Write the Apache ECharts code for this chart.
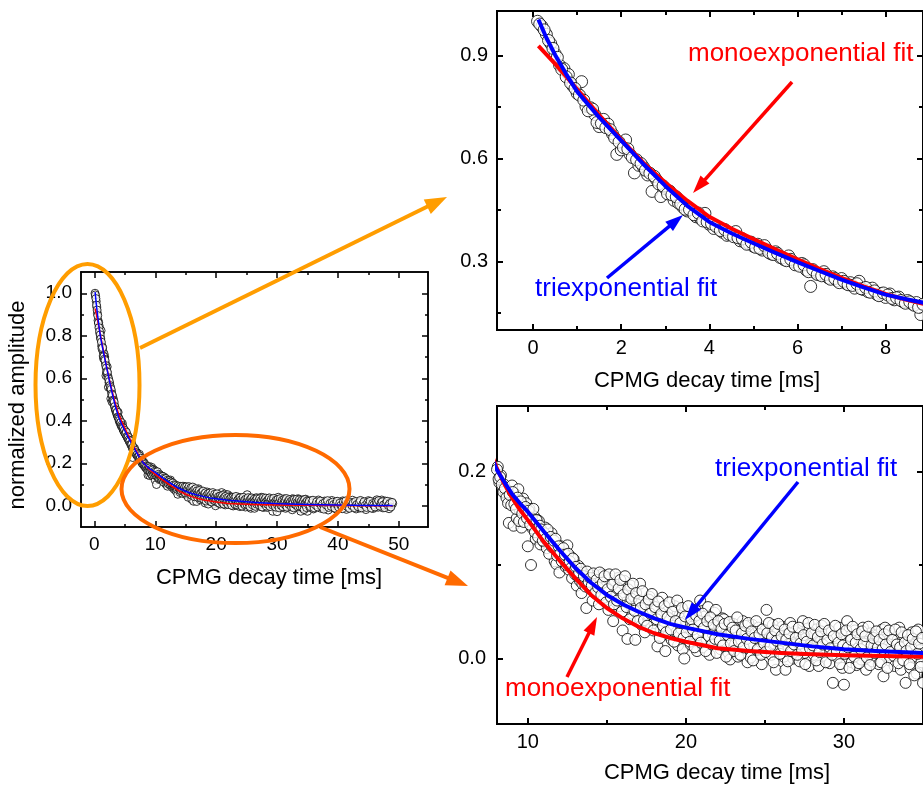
<!DOCTYPE html>
<html>
<head>
<meta charset="utf-8">
<script src="https://cdn.jsdelivr.net/npm/echarts@6/dist/echarts.min.js"></script>
<style>
  html, body { margin: 0; padding: 0; background: #fff; }
  #chart { width: 923px; height: 785px; }
</style>
</head>
<body>
<div id="chart"></div>
<script>
// CPMG echo amplitudes [decay time ms, normalized amplitude]
const echoEarly = [
  [0.1,1.000],[0.2,0.985],[0.3,0.962],[0.4,0.935],[0.5,0.905],[0.6,0.872],[0.7,0.862],[0.8,0.845],[0.9,0.812],[1.0,0.790],
  [1.1,0.824],[1.2,0.752],[1.3,0.748],[1.4,0.728],[1.5,0.693],[1.6,0.714],[1.7,0.700],[1.8,0.672],[1.9,0.612],[2.0,0.625],
  [2.1,0.654],[2.2,0.612],[2.3,0.558],[2.4,0.580],[2.5,0.576],[2.6,0.552],[2.7,0.504],[2.8,0.538],[2.9,0.489],[3.0,0.512],
  [3.1,0.505],[3.2,0.478],[3.3,0.470],[3.4,0.458],[3.5,0.447],[3.6,0.449],[3.7,0.430],[3.8,0.425],[3.9,0.440],[4.0,0.408],
  [4.1,0.396],[4.2,0.398],[4.3,0.385],[4.4,0.376],[4.5,0.380],[4.6,0.387],[4.7,0.360],[4.8,0.356],[4.9,0.352],[5.0,0.344],
  [5.1,0.350],[5.2,0.333],[5.3,0.336],[5.4,0.322],[5.5,0.328],[5.6,0.312],[5.7,0.305],[5.8,0.316],[5.9,0.298],[6.0,0.292],
  [6.1,0.294],[6.2,0.275],[6.3,0.227],[6.4,0.268],[6.5,0.262],[6.6,0.270],[6.7,0.252],[6.8,0.255],[6.9,0.244],[7.0,0.250],
  [7.1,0.236],[7.2,0.238],[7.3,0.222],[7.4,0.242],[7.5,0.218],[7.6,0.212],[7.7,0.222],[7.8,0.204],[7.9,0.206],[8.0,0.195],
  [8.1,0.205],[8.2,0.188],[8.3,0.196],[8.4,0.182],[8.5,0.186],[8.6,0.176],[8.7,0.180],[8.8,0.145],[8.9,0.172]
];
const echoEarlyB = [
  [0.15,0.992],[0.25,0.975],[0.35,0.944],[0.45,0.921],[0.55,0.895],[0.65,0.860],[0.75,0.838],[0.85,0.820],[0.95,0.804],
  [1.05,0.785],[1.15,0.770],[1.25,0.739],[1.35,0.744],[1.45,0.705],[1.55,0.702],[1.65,0.690],[1.75,0.684],[1.85,0.660],[1.95,0.648],
  [2.05,0.632],[2.15,0.628],[2.25,0.603],[2.35,0.596],[2.45,0.585],[2.55,0.566],[2.65,0.557],[2.75,0.548],[2.85,0.526],[2.95,0.520],
  [3.05,0.497],[3.15,0.494],[3.25,0.488],[3.35,0.467],[3.45,0.452],[3.55,0.451],[3.65,0.436],[3.75,0.441],[3.85,0.418],[3.95,0.415],
  [4.05,0.410],[4.15,0.402],[4.25,0.390],[4.35,0.393],[4.45,0.379],[4.55,0.372],[4.65,0.369],[4.75,0.366],[4.85,0.350],[4.95,0.356],
  [5.05,0.341],[5.15,0.338],[5.25,0.346],[5.35,0.326],[5.45,0.320],[5.55,0.323],[5.65,0.310],[5.75,0.302],[5.85,0.306],[5.95,0.290],
  [6.05,0.286],[6.15,0.290],[6.25,0.270],[6.35,0.276],[6.45,0.262],[6.55,0.258],[6.65,0.262],[6.75,0.248],[6.85,0.250],[6.95,0.238],
  [7.05,0.242],[7.15,0.232],[7.25,0.230],[7.35,0.235],[7.45,0.220],[7.55,0.224],[7.65,0.210],[7.75,0.214],[7.85,0.200],[7.95,0.208],
  [8.05,0.202],[8.15,0.192],[8.25,0.194],[8.35,0.186],[8.45,0.178],[8.55,0.182],[8.65,0.172],[8.75,0.166],[8.85,0.175],[8.95,0.164]
];
const echoMid = [
  [9.0,0.185],[9.1,0.142],[9.2,0.176],[9.3,0.150],[9.4,0.181],[9.5,0.158],[9.6,0.140],[9.7,0.171],[9.8,0.152],[9.9,0.166],
  [10.0,0.120],[10.1,0.160],[10.2,0.100],[10.3,0.139],[10.4,0.152],[10.5,0.128],[10.6,0.148],[10.7,0.147],[10.8,0.122],[10.9,0.133],
  [11.0,0.125],[11.1,0.140],[11.2,0.118],[11.3,0.131],[11.4,0.123],[11.5,0.134],[11.6,0.118],[11.7,0.104],[11.8,0.101],[11.9,0.114],
  [12.0,0.092],[12.1,0.120],[12.2,0.108],[12.3,0.113],[12.4,0.098],[12.5,0.121],[12.6,0.095],[12.7,0.109],[12.8,0.086],[12.9,0.106],
  [13.0,0.090],[13.1,0.078],[13.2,0.099],[13.3,0.083],[13.4,0.070],[13.5,0.092],[13.6,0.090],[13.7,0.054],[13.8,0.087],[13.9,0.075],
  [14.0,0.089],[14.1,0.062],[14.2,0.086],[14.3,0.072],[14.4,0.088],[14.5,0.058],[14.6,0.079],[14.7,0.090],[14.8,0.065],[14.9,0.076],
  [15.0,0.087],[15.1,0.052],[15.2,0.085],[15.3,0.064],[15.4,0.040],[15.5,0.083],[15.6,0.071],[15.7,0.086],[15.8,0.056],[15.9,0.066],
  [16.0,0.030],[16.1,0.083],[16.2,0.060],[16.3,0.021],[16.4,0.072],[16.5,0.078],[16.6,0.048],[16.7,0.066],[16.8,0.020],[16.9,0.058],
  [17.0,0.044],[17.1,0.080],[17.2,0.036],[17.3,0.055],[17.4,0.028],[17.5,0.060],[17.6,0.047],[17.7,0.066],[17.8,0.033],[17.9,0.052],
  [18.0,0.038],[18.1,0.052],[18.2,0.013],[18.3,0.045],[18.4,0.030],[18.5,0.065],[18.6,0.040],[18.7,0.008],[18.8,0.050],[18.9,0.025],
  [19.0,0.042],[19.1,0.020],[19.2,0.035],[19.3,0.056],[19.4,0.028],[19.5,0.014],[19.6,0.046],[19.7,0.032],[19.8,0.010],[19.9,0.000],
  [20.0,0.040],[20.1,0.022],[20.2,0.048],[20.3,0.015],[20.4,0.034],[20.5,0.027],[20.6,0.052],[20.7,0.008],[20.8,0.036],[20.9,0.062],
  [21.0,0.030],[21.1,0.012],[21.2,0.045],[21.3,0.021],[21.4,0.055],[21.5,0.004],[21.6,0.038],[21.7,0.026],[21.8,0.049],[21.9,0.052],
  [22.0,0.024],[22.1,0.035],[22.2,0.010],[22.3,0.043],[22.4,0.042],[22.5,0.018],[22.6,0.030],[22.7,0.006],[22.8,-0.001],[22.9,0.028],
  [23.0,0.037],[23.1,0.015],[23.2,0.026],[23.3,0.002],[23.4,0.034],[23.5,0.020],[23.6,0.040],[23.7,0.011],[23.8,0.029],[23.9,-0.004],
  [24.0,0.023],[24.1,0.001],[24.2,0.036],[24.3,0.014],[24.4,0.027],[24.5,0.009],[24.6,0.033],[24.7,0.018],[24.8,-0.006],[24.9,0.025],
  [25.0,0.030],[25.1,0.052],[25.2,0.012],[25.3,0.024],[25.4,0.004],[25.5,0.036],[25.6,0.016],[25.7,-0.012],[25.8,0.028],[25.9,0.008],
  [26.0,0.020],[26.1,0.034],[26.2,0.002],[26.3,-0.012],[26.4,0.026],[26.5,0.011],[26.6,0.038],[26.7,0.017],[26.8,0.000],[26.9,0.029],
  [27.0,0.013],[27.1,0.027],[27.2,-0.003],[27.3,0.020],[27.4,0.040],[27.5,0.006],[27.6,0.022],[27.7,0.032],[27.8,-0.008],[27.9,0.015],
  [28.0,0.024],[28.1,0.004],[28.2,0.031],[28.3,0.012],[28.4,-0.008],[28.5,0.018],[28.6,0.035],[28.7,0.003],[28.8,0.021],[28.9,0.010],
  [29.0,0.017],[29.1,-0.005],[29.2,0.028],[29.3,-0.026],[29.4,0.012],[29.5,0.022],[29.6,0.001],[29.7,0.033],[29.8,0.009],[29.9,-0.010],
  [30.0,-0.028],[30.1,0.019],[30.2,0.040],[30.3,0.005],[30.4,0.024],[30.5,-0.004],[30.6,0.014],[30.7,0.030],[30.8,-0.007],[30.9,0.011],
  [31.0,0.021],[31.1,-0.001],[31.2,0.033],[31.3,0.008],[31.4,-0.012],[31.5,0.018],[31.6,0.004],[31.7,0.027],[31.8,-0.003],[31.9,0.013],
  [32.0,0.009],[32.1,0.025],[32.2,-0.006],[32.3,0.016],[32.4,0.031],[32.5,-0.019],[32.6,0.033],[32.7,0.003],[32.8,0.019],[32.9,-0.002],
  [33.0,0.012],[33.1,0.026],[33.2,-0.008],[33.3,0.005],[33.4,0.020],[33.5,0.033],[33.6,-0.012],[33.7,0.010],[33.8,0.024],[33.9,-0.026],
  [34.0,0.006],[34.1,0.018],[34.2,-0.010],[34.3,0.028],[34.4,0.002],[34.5,0.015],[34.6,-0.016],[34.7,0.031],[34.8,0.009],[34.9,-0.004],
  [35.0,-0.026]
];
const echoMidB = [
  [9.05,0.178],[9.15,0.165],[9.25,0.160],[9.35,0.172],[9.45,0.147],[9.55,0.168],[9.65,0.155],[9.75,0.146],[9.85,0.162],[9.95,0.150],
  [10.05,0.158],[10.15,0.143],[10.25,0.150],[10.35,0.160],[10.45,0.135],[10.55,0.148],[10.65,0.130],[10.75,0.142],[10.85,0.138],[10.95,0.126],
  [11.05,0.134],[11.15,0.128],[11.25,0.138],[11.35,0.112],[11.45,0.130],[11.55,0.119],[11.65,0.126],[11.75,0.128],[11.85,0.110],[11.95,0.120],
  [12.05,0.112],[12.15,0.104],[12.25,0.118],[12.35,0.111],[12.45,0.100],[12.55,0.112],[12.65,0.104],[12.75,0.097],[12.85,0.107],[12.95,0.094],
  [13.05,0.098],[13.15,0.088],[13.25,0.092],[13.35,0.096],[13.45,0.080],[13.55,0.088],[13.65,0.077],[13.75,0.093],[13.85,0.082],[13.95,0.086],
  [14.05,0.078],[14.15,0.091],[14.25,0.070],[14.35,0.084],[14.45,0.076],[14.55,0.092],[14.65,0.068],[14.75,0.081],[14.85,0.088],[14.95,0.060],
  [15.05,0.074],[15.15,0.090],[15.25,0.066],[15.35,0.079],[15.45,0.058],[15.55,0.090],[15.65,0.062],[15.75,0.075],[15.85,0.084],[15.95,0.050],
  [16.05,0.068],[16.15,0.088],[16.25,0.055],[16.35,0.074],[16.45,0.042],[16.55,0.064],[16.65,0.080],[16.75,0.051],[16.85,0.070],[16.95,0.040],
  [17.05,0.062],[17.15,0.054],[17.25,0.072],[17.35,0.041],[17.45,0.058],[17.55,0.035],[17.65,0.063],[17.75,0.048],[17.85,0.069],[17.95,0.030],
  [18.05,0.055],[18.15,0.042],[18.25,0.061],[18.35,0.022],[18.45,0.048],[18.55,0.035],[18.65,0.056],[18.75,0.028],[18.85,0.044],[18.95,0.060],
  [19.05,0.031],[19.15,0.050],[19.25,0.018],[19.35,0.040],[19.45,0.062],[19.55,0.027],[19.65,0.038],[19.75,0.054],[19.85,0.022],[19.95,0.045],
  [20.05,0.028],[20.15,0.056],[20.25,0.018],[20.35,0.042],[20.45,0.031],[20.55,0.012],[20.65,0.046],[20.75,0.025],[20.85,0.040],[20.95,0.017],
  [21.05,0.048],[21.15,0.033],[21.25,0.008],[21.35,0.040],[21.45,0.024],[21.55,0.044],[21.65,0.015],[21.75,0.036],[21.85,0.021],[21.95,0.006],
  [22.05,0.040],[22.15,0.019],[22.25,0.032],[22.35,0.014],[22.45,0.037],[22.55,0.002],[22.65,0.025],[22.75,0.039],[22.85,0.016],[22.95,0.033],
  [23.05,0.008],[23.15,0.030],[23.25,0.044],[23.35,0.018],[23.45,0.004],[23.55,0.027],[23.65,0.012],[23.75,0.035],[23.85,0.021],[23.95,0.038],
  [24.05,0.015],[24.15,0.029],[24.25,-0.002],[24.35,0.022],[24.45,0.040],[24.55,0.010],[24.65,0.026],[24.75,0.004],[24.85,0.031],[24.95,0.016],
  [25.05,0.007],[25.15,0.027],[25.25,0.038],[25.35,0.013],[25.45,0.023],[25.55,-0.004],[25.65,0.030],[25.75,0.019],[25.85,0.037],[25.95,0.005],
  [26.05,0.024],[26.15,0.013],[26.25,0.031],[26.35,0.020],[26.45,-0.003],[26.55,0.027],[26.65,0.008],[26.75,0.034],[26.85,0.015],[26.95,0.022],
  [27.05,0.004],[27.15,0.033],[27.25,0.016],[27.35,0.009],[27.45,0.025],[27.55,-0.006],[27.65,0.018],[27.75,0.038],[27.85,0.011],[27.95,0.027],
  [28.05,0.014],[28.15,0.036],[28.25,-0.002],[28.35,0.023],[28.45,0.007],[28.55,0.029],[28.65,0.015],[28.75,0.037],[28.85,-0.004],[28.95,0.020],
  [29.05,0.030],[29.15,0.011],[29.25,0.004],[29.35,0.024],[29.45,0.035],[29.55,0.008],[29.65,0.017],[29.75,-0.006],[29.85,0.026],[29.95,0.014],
  [30.05,0.005],[30.15,0.030],[30.25,0.012],[30.35,-0.010],[30.45,0.020],[30.55,0.034],[30.65,0.002],[30.75,0.017],[30.85,0.026],[30.95,-0.005],
  [31.05,0.010],[31.15,0.029],[31.25,0.016],[31.35,0.024],[31.45,0.001],[31.55,0.034],[31.65,-0.007],[31.75,0.014],[31.85,0.022],[31.95,0.006],
  [32.05,0.029],[32.15,0.012],[32.25,0.020],[32.35,-0.004],[32.45,0.010],[32.55,0.026],[32.65,0.015],[32.75,-0.010],[32.85,0.030],[32.95,0.007],
  [33.05,0.020],[33.15,0.003],[33.25,0.031],[33.35,0.015],[33.45,-0.005],[33.55,0.012],[33.65,0.028],[33.75,-0.002],[33.85,0.017],[33.95,0.008],
  [34.05,0.025],[34.15,-0.006],[34.25,0.012],[34.35,0.021],[34.45,-0.018],[34.55,0.029],[34.65,0.005],[34.75,0.016],[34.85,-0.009],[34.95,0.022]
];
const echoLate = [
  [35.2,0.016],[35.4,-0.008],[35.6,0.024],[35.8,0.003],[36.0,-0.015],[36.2,0.019],[36.4,0.007],[36.6,-0.004],[36.8,0.027],[37.0,0.010],
  [37.2,-0.012],[37.4,0.014],[37.6,0.002],[37.8,0.022],[38.0,-0.007],[38.2,0.011],[38.4,-0.020],[38.6,0.017],[38.8,0.005],[39.0,0.025],
  [39.2,-0.003],[39.4,0.013],[39.6,-0.014],[39.8,0.020],[40.0,0.001],[40.2,0.016],[40.4,-0.009],[40.6,0.008],[40.8,0.023],[41.0,-0.005],
  [41.2,0.012],[41.4,-0.017],[41.6,0.019],[41.8,0.004],[42.0,-0.008],[42.2,0.014],[42.4,0.026],[42.6,-0.002],[42.8,0.009],[43.0,-0.015],
  [43.2,0.018],[43.4,0.003],[43.6,-0.011],[43.8,0.021],[44.0,0.006],[44.2,-0.006],[44.4,0.015],[44.6,-0.018],[44.8,0.010],[45.0,0.024],
  [45.2,-0.004],[45.4,0.012],[45.6,0.001],[45.8,-0.013],[46.0,0.019],[46.2,0.007],[46.4,0.028],[46.6,-0.007],[46.8,0.016],[47.0,0.003],
  [47.2,0.027],[47.4,-0.010],[47.6,0.013],[47.8,0.022],[48.0,-0.003],[48.2,0.009],[48.4,-0.014],[48.6,0.018],[48.8,0.005],[49.0,0.011]
];
const echoLateB = [
  [35.1,0.008],[35.3,0.021],[35.5,-0.004],[35.7,0.012],[35.9,0.026],[36.1,-0.010],[36.3,0.004],[36.5,0.018],[36.7,-0.006],[36.9,0.013],
  [37.1,0.022],[37.3,-0.002],[37.5,0.009],[37.7,-0.016],[37.9,0.015],[38.1,0.003],[38.3,0.024],[38.5,-0.008],[38.7,0.011],[38.9,-0.003],
  [39.1,0.017],[39.3,0.006],[39.5,-0.011],[39.7,0.009],[39.9,0.021],[40.1,-0.006],[40.3,0.012],[40.5,0.002],[40.7,-0.014],[40.9,0.018],
  [41.1,0.005],[41.3,0.023],[41.5,-0.003],[41.7,0.010],[41.9,-0.012],[42.1,0.016],[42.3,0.001],[42.5,0.013],[42.7,-0.009],[42.9,0.020],
  [43.1,0.006],[43.3,-0.004],[43.5,0.014],[43.7,0.025],[43.9,-0.010],[44.1,0.008],[44.3,0.019],[44.5,0.002],[44.7,-0.008],[44.9,0.015],
  [45.1,0.007],[45.3,0.021],[45.5,-0.011],[45.7,0.010],[45.9,0.004],[46.1,-0.006],[46.3,0.017],[46.5,0.011],[46.7,0.024],[46.9,-0.002],
  [47.1,0.014],[47.3,0.019],[47.5,0.004],[47.7,-0.009],[47.9,0.012],[48.1,0.021],[48.3,0.001],[48.5,0.010],[48.7,-0.006],[48.9,0.016]
];

// fitted curves
const monoFit = [
  [0.12,0.928],[0.5,0.876],[1,0.802],[1.5,0.727],[2,0.655],[2.5,0.588],[3,0.530],[3.5,0.477],[4,0.430],[4.5,0.396],
  [5,0.365],[5.5,0.335],[6,0.306],[6.5,0.278],[7,0.252],[7.5,0.227],[8,0.205],[8.5,0.187],[9,0.172],[9.5,0.159],
  [10,0.148],[11,0.125],[12,0.105],[13,0.086],[14,0.068],[15,0.054],[16,0.043],[17,0.034],[18,0.027],[19,0.022],
  [20,0.018],[22,0.011],[24,0.008],[26,0.006],[28,0.0045],[30,0.0035],[35,0.002],[40,0.001],[45,0.0005],[49,0.0003]
];
const triFit = [
  [0.12,1.005],[0.3,0.952],[0.5,0.902],[0.75,0.846],[1,0.795],[1.5,0.720],[2,0.652],[2.5,0.584],[3,0.520],[3.5,0.462],
  [4,0.415],[4.5,0.382],[5,0.353],[5.5,0.325],[6,0.298],[6.5,0.272],[7,0.247],[7.5,0.224],[8,0.203],[8.5,0.189],
  [9,0.176],[9.5,0.166],[10,0.157],[11,0.136],[12,0.116],[13,0.097],[14,0.081],[15,0.068],[16,0.058],[17,0.050],
  [18,0.043],[19,0.037],[20,0.033],[22,0.026],[24,0.021],[26,0.017],[28,0.013],[30,0.010],[32,0.008],[35,0.006],
  [40,0.003],[45,0.0015],[49,0.001]
];

// tick values per panel
const mainXTicks = [0, 10, 20, 30, 40, 50];
const mainXMinor = [5, 15, 25, 35, 45];
const mainYTicks = [0, 0.2, 0.4, 0.6, 0.8, 1.0];
const mainYMinor = [0.1, 0.3, 0.5, 0.7, 0.9];
const topXTicks = [0, 2, 4, 6, 8];
const topXMinor = [1, 3, 5, 7];
const topYTicks = [0.3, 0.6, 0.9];
const topYMinor = [0.15, 0.45, 0.75];
const botXTicks = [10, 20, 30];
const botXMinor = [15, 25, 35];
const botYTicks = [0.0, 0.2];
const botYMinor = [0.1];

const echoData = echoEarly.concat(echoEarlyB, echoMid, echoMidB, echoLate, echoLateB);
const FONT = '"Liberation Sans", Arial, Helvetica, sans-serif';

const chart = echarts.init(document.getElementById('chart'));

function axis(grid, pos, min, max, ticks, len, lw, label) {
  const a = {
    type: 'value', gridIndex: grid, position: pos, min: min, max: max,
    axisLine: { show: true, onZero: false, lineStyle: { color: '#000', width: lw } },
    axisTick: { show: true, inside: true, length: len, customValues: ticks,
                lineStyle: { color: '#000', width: lw } },
    axisLabel: { show: false },
    splitLine: { show: false }
  };
  if (label) {
    a.axisLabel = {
      show: true, customValues: ticks, formatter: label.fmt, fontSize: label.size,
      margin: label.margin, color: '#000', fontFamily: FONT
    };
  }
  return a;
}

// one panel = 4 x axes + 4 y axes (major/minor ticks on both sides)
function panelAxes(g, p) {
  const xs = [
    axis(g, 'bottom', p.xMin, p.xMax, p.xTicks, p.major, p.lw, { fmt: v => String(v), size: p.fs, margin: p.xm }),
    axis(g, 'bottom', p.xMin, p.xMax, p.xMinor, p.minor, p.lw),
    axis(g, 'top', p.xMin, p.xMax, p.xTicks, p.major, p.lw),
    axis(g, 'top', p.xMin, p.xMax, p.xMinor, p.minor, p.lw)
  ];
  const ys = [
    axis(g, 'left', p.yMin, p.yMax, p.yTicks, p.major, p.lw, { fmt: v => v.toFixed(1), size: p.fs, margin: p.ym }),
    axis(g, 'left', p.yMin, p.yMax, p.yMinor, p.minor, p.lw),
    axis(g, 'right', p.yMin, p.yMax, p.yTicks, p.major, p.lw),
    axis(g, 'right', p.yMin, p.yMax, p.yMinor, p.minor, p.lw)
  ];
  return { xs, ys };
}

const panels = [
  { xMin: -2.2, xMax: 54.8, yMin: -0.1, yMax: 1.1, xTicks: mainXTicks, xMinor: mainXMinor,
    yTicks: mainYTicks, yMinor: mainYMinor, major: 6, minor: 3, lw: 1.5, fs: 19, xm: 8, ym: 9,
    sym: 8, fitW: 1.5 },
  { xMin: -0.82, xMax: 8.85, yMin: 0.1, yMax: 1.03, xTicks: topXTicks, xMinor: topXMinor,
    yTicks: topYTicks, yMinor: topYMinor, major: 6, minor: 4, lw: 2, fs: 20, xm: 8, ym: 9,
    sym: 12, fitW: 4 },
  { xMin: 8.05, xMax: 35, yMin: -0.07, yMax: 0.27, xTicks: botXTicks, xMinor: botXMinor,
    yTicks: botYTicks, yMinor: botYMinor, major: 6, minor: 4, lw: 2, fs: 20, xm: 8, ym: 11,
    sym: 11, fitW: 4 }
];

const xAxes = [], yAxes = [], series = [];
panels.forEach((p, g) => {
  const a = panelAxes(g, p);
  xAxes.push(...a.xs);
  yAxes.push(...a.ys);
  series.push({
    type: 'scatter', xAxisIndex: 4 * g, yAxisIndex: 4 * g, data: echoData,
    symbol: 'circle', symbolSize: p.sym, silent: true, large: false,
    itemStyle: { color: '#fff', borderColor: '#000', borderWidth: 1 }
  });
  series.push({
    type: 'line', xAxisIndex: 4 * g, yAxisIndex: 4 * g, data: monoFit,
    smooth: false, showSymbol: false, silent: true,
    lineStyle: { color: '#ff0000', width: p.fitW, join: 'round' }
  });
  series.push({
    type: 'line', xAxisIndex: 4 * g, yAxisIndex: 4 * g, data: triFit,
    smooth: false, showSymbol: false, silent: true,
    lineStyle: { color: '#0000ff', width: p.fitW, join: 'round' }
  });
});

function arrow(x1, y1, x2, y2, color, w, hl, hw) {
  const dx = x2 - x1, dy = y2 - y1, L = Math.hypot(dx, dy);
  const ux = dx / L, uy = dy / L;
  const bx = x2 - ux * hl, by = y2 - uy * hl;
  return [
    { type: 'line', z: 100, shape: { x1: x1, y1: y1, x2: bx + ux * 2, y2: by + uy * 2 },
      style: { stroke: color, lineWidth: w } },
    { type: 'polygon', z: 100,
      shape: { points: [[x2, y2], [bx - uy * hw, by + ux * hw], [bx + uy * hw, by - ux * hw]] },
      style: { fill: color } }
  ];
}

function label(text, x, y, size, color, align, rot) {
  return {
    type: 'text', z: 100, x: x, y: y, rotation: rot || 0,
    style: { text: text, fill: color, font: size + 'px ' + FONT,
             align: align, verticalAlign: 'middle', textAlign: align, textVerticalAlign: 'middle' }
  };
}

const AMBER = '#ff9d00', ORANGE = '#ff6a00';

const graphics = [
  label('normalized amplitude', 18, 405, 22, '#000', 'center', Math.PI / 2),
  label('CPMG decay time [ms]', 269, 578, 22, '#000', 'center'),
  label('CPMG decay time [ms]', 707, 381, 22, '#000', 'center'),
  label('CPMG decay time [ms]', 717, 773, 22, '#000', 'center'),
  label('monoexponential fit', 688, 54, 26, '#ff0000', 'left'),
  label('triexponential fit', 535, 289, 26, '#0000ff', 'left'),
  label('triexponential fit', 715, 469, 26, '#0000ff', 'left'),
  label('monoexponential fit', 505, 689, 26, '#ff0000', 'left'),
  { type: 'ellipse', z: 100, shape: { cx: 87.5, cy: 385, rx: 52, ry: 121 },
    style: { fill: 'none', stroke: AMBER, lineWidth: 4 } },
  { type: 'ellipse', z: 100, shape: { cx: 235.5, cy: 489, rx: 114, ry: 54 },
    style: { fill: 'none', stroke: ORANGE, lineWidth: 4 } }
].concat(
  arrow(140, 348, 447, 197, AMBER, 4, 22, 8),
  arrow(320, 527, 468, 586, ORANGE, 4, 22, 8),
  arrow(792, 82, 693, 193, '#ff0000', 3.5, 18, 6),
  arrow(607, 278, 683, 215, '#0000ff', 3.5, 18, 6),
  arrow(798, 482, 685, 620, '#0000ff', 3.5, 18, 6),
  arrow(567, 677, 597, 617, '#ff0000', 3.5, 18, 6)
);

chart.setOption({
  animation: false,
  backgroundColor: '#fff',
  grid: [
    { left: 81, top: 272, width: 347, height: 255 },
    { left: 497, top: 11, width: 428, height: 319 },
    { left: 497, top: 406, width: 428, height: 318 }
  ],
  xAxis: xAxes,
  yAxis: yAxes,
  series: series,
  graphic: graphics
});
</script>
</body>
</html>
